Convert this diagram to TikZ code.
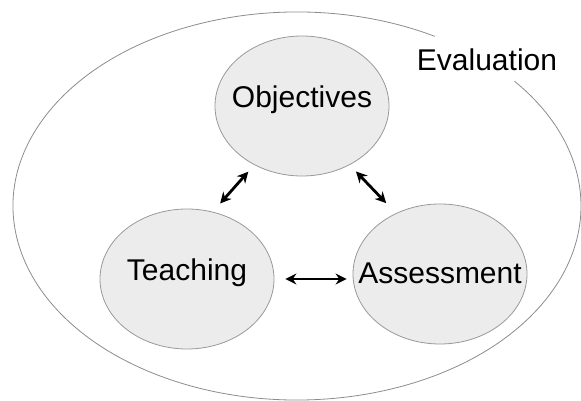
\documentclass[tikz,border=0pt]{standalone}
\usepackage{fontspec}
\setmainfont{Liberation Sans}
\usetikzlibrary{shapes.geometric,arrows.meta}
\begin{document}
\begin{tikzpicture}[x=1pt, y=1pt, font=\fontsize{30}{35}\selectfont, line join=round, line cap=round,
	>={Stealth[length=11pt,width=11pt]},
	part/.style={ellipse, draw=gray!80, line width=0.8pt, fill=gray!15, minimum width=174pt, minimum height=140pt, inner sep=0pt},
	link/.style={<->, line width=2.8pt}]
	\def\rx{284} \def\ry{194} % outer ellipse
	\useasboundingbox (0,0) rectangle (581,401);
	\draw[gray!90, line width=0.8pt] (297,195) ++(61:{\rx} and {\ry}) arc[start angle=61, end angle=400, x radius=\rx, y radius=\ry];
	\node (eval) at (487,341) {Evaluation};
	\node[part, label={[yshift=6pt]center:Objectives}] (obj) at (302,295) {};
	\node[part, label={[yshift=6pt]center:Teaching}] (teach) at (187,122) {};
	\node[part, label={[yshift=1pt]center:Assessment}] (assess) at (440,127) {};
	\draw[link, shorten <=9pt, shorten >=11pt] (obj.231) -- (teach.69);
	\draw[link, shorten <=9pt, shorten >=14pt] (obj.309) -- (assess.126);
	\draw[link, shorten <=11pt, shorten >=6pt] (teach.east) -- (teach.east -| assess.west);
\end{tikzpicture}
\end{document}
